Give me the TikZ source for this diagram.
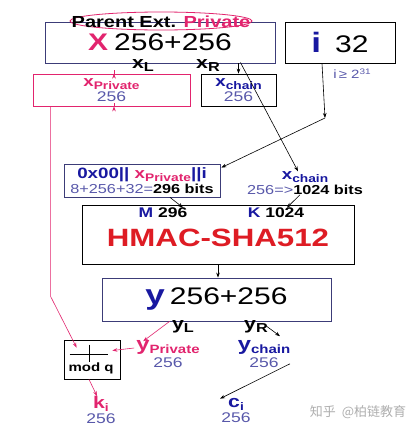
\documentclass[tikz,border=0pt]{standalone}
\usepackage{fontspec}
\setmainfont{Liberation Sans}[FakeStretch=1.25]
\newfontfamily\cjk{Noto Sans CJK SC}
\usetikzlibrary{arrows.meta,calc}
\definecolor{pk}{RGB}{226,36,110}
\definecolor{rd}{RGB}{222,28,36}
\definecolor{db}{RGB}{24,24,160}
\definecolor{bg}{RGB}{88,88,170}
\definecolor{nv}{RGB}{60,60,120}
\definecolor{wm}{RGB}{175,175,175}
\newcommand\fs[1]{\fontsize{#1}{#1}\selectfont}
\newcommand\sub[2]{\raisebox{-3pt}{\fs{#1}#2}}
\begin{document}
\begin{tikzpicture}[x=1pt,y=-1pt,font=\bfseries,
  box/.style={draw,line width=0.8pt,inner sep=0pt,align=center},
  lab/.style={inner sep=0pt,align=center},
  bs/.style={font=\bfseries\fontsize{14}{#1}\selectfont},
  arr/.style={-{Stealth[length=5pt,width=3.6pt]},line width=0.6pt},
  parr/.style={arr,draw=pk}]
\useasboundingbox (0,0) rectangle (418,434);
\fill[white] (0,0) rectangle (418,434);
% top box
\node[box,draw=nv,minimum width=230,minimum height=41] (parent) at (160,42.5)
  {\raisebox{-2pt}{\fs{24}\color{pk}X}\hspace{6pt}\raisebox{-2pt}{\fs{24}\mdseries 256+256}};
\draw[pk,line width=0.8pt] (161,21) ellipse (91 and 9);
\node[lab] (ptitle) at (161,22) {\fs{16}Parent Ext. \textcolor{pk}{Private}};
\node[lab] (xL) at (143,66) {\fs{17}x\sub{13}{L}};
\node[lab] (xR) at (208,66) {\fs{17}x\sub{13}{R}};
% i box
\node[box,minimum width=110,minimum height=41] (ibox) at (340,42.5)
  {\raisebox{-1pt}{\fs{28}\color{db}i}\hspace{14pt}\raisebox{-1pt}{\fs{24}\mdseries 32}};
\node[lab,text=bg] (icond) at (352,74) {\fs{12}\mdseries i $\!$≥ 2\raisebox{4pt}{\fs{8}31}};
% second row boxes
\node[box,bs=15,draw=pk,minimum width=157,minimum height=32] (xpriv) at (111.5,90)
  {\color{pk}{\fs{15}x}\sub{11}{Private}\\{\fs{14}\mdseries\color{bg}256}};
\node[box,bs=15,minimum width=75,minimum height=32] (xchb) at (238.5,90)
  {\color{db}{\fs{15}x}\sub{11}{chain}\\{\fs{14}\mdseries\color{bg}256}};
% concatenation box
\node[box,bs=15,draw=nv,minimum width=156,minimum height=33] (m) at (142,180.5)
  {\fs{15}\color{db}0x00|| \textcolor{pk}{x\sub{11}{Private}}||i\\
   {\fs{13}\mdseries\color{bg}8+256+32=}{\fs{13}296 bits}};
\node[lab,bs=15] (xc2) at (305,183)
  {\color{db}{\fs{15}x}\sub{11}{chain}\\
   {\fs{13}\mdseries\color{bg}256=>}{\fs{13}1024 bits}};
% HMAC
\node[box,minimum width=272,minimum height=59] (hmac) at (218,234.5) {};
\node[lab] (mlab) at (163,213) {\fs{14}\textcolor{db}{M} 296};
\node[lab] (klab) at (276,213) {\fs{14}\textcolor{db}{K} 1024};
\node[lab,text=rd] (htxt) at (218,238) {\fs{25}HMAC-SHA512};
% y box
\node[box,draw=nv,minimum width=229,minimum height=43] (ybox) at (216.5,299.5)
  {\raisebox{-1pt}{\fs{28}\color{db}y}\hspace{5pt}\raisebox{-1pt}{\fs{24}\mdseries 256+256}};
\node[lab] (yL) at (183,327) {\fs{17}y\sub{13}{L}};
\node[lab] (yR) at (256,327) {\fs{17}y\sub{13}{R}};
\node[lab,bs=17] (ypriv) at (168,354)
  {\color{pk}{\fs{19}y}\sub{12}{Private}\\{\fs{14}\mdseries\color{bg}256}};
\node[lab,bs=17] (ych) at (264,354)
  {\color{db}{\fs{19}y}\sub{12}{chain}\\{\fs{14}\mdseries\color{bg}256}};
% mod q
\node[box,minimum width=56,minimum height=39] (modq) at (92,359.5) {};
\draw[line width=0.8pt] ($(modq.north west)+(6,15)$) -- ($(modq.north east)+(-12,15)$);
\draw[line width=0.8pt] ($(modq.north)+(-3,5)$) -- ($(modq.north)+(-3,22)$);
\node[lab] (mq) at (91,368) {\fs{12}mod q};
\node[lab,bs=15] (ki) at (101,410)
  {\color{pk}{\fs{17}k}\sub{11}{i}\\{\fs{14}\mdseries\color{bg}256}};
\node[lab,bs=15] (ci) at (236,410)
  {\color{db}{\fs{17}c}\sub{11}{i}\\{\fs{14}\mdseries\color{bg}256}};
\node[lab,text=wm] (wmk) at (358,412) {\cjk\mdseries\fs{13}知乎\ \ @柏链教育};
% connectors
\draw[parr] ($(xpriv.north)+(2.5,0)$ |- parent.south) -- ($(xpriv.north)+(2.5,0)$);
\draw[arr] (xchb.north |- parent.south) -- (xchb.north);
\coordinate (c1) at ($(xchb.north)+(2,-11)$);
\draw[arr] (c1) -- ($(xc2.north)+(-7,0)$);
\coordinate (c2) at (325,118);
\draw[arr] ($(ibox.south)+(-18,0)$) -- (c2);
\draw[arr] (c2) -- ($(m.north east)+(1,4)$);
\draw[parr] ($(xpriv.south)+(2.5,0)$) -- ($(xpriv.south)+(2.5,0)$ |- m.north);
\draw[parr] ($(xpriv.south west)+(18,0)$) -- ++(0,190) -- ($(modq.north west)+(13,8)$);
\draw[arr] ($(m.south)+(28,0)$) -- ($(hmac.north)+(-35,3)$);
\draw[arr] ($(xc2.south)+(-5,0)$) -- ($(hmac.north)+(69,3)$);
\draw[arr] (hmac.south) -- (hmac.south |- ybox.north);
\draw[parr] ($(ybox.south west)+(68,0)$) -- ($(ypriv.north west)+(7,1)$);
\draw[parr] ($(ypriv.west)+(-2,-6)$) -- ($(modq.east)+(-8,-9)$);
\draw[parr] ($(modq.south)+(-3,0)$) -- ($(ki.north)+(-4,0)$);
\draw[arr] ($(yR.east)+(-3,-2)$) -- ($(ych.north)+(16,-4)$);
\draw[arr] ($(ych.south)+(26,-4)$) -- ($(ci.north)+(-16,1)$);
\end{tikzpicture}
\end{document}
